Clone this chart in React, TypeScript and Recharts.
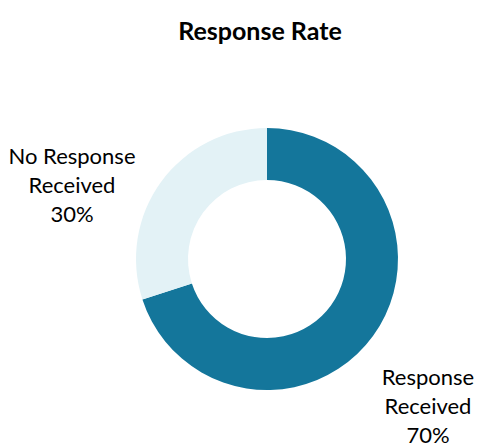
import { PieChart, Pie, Cell } from 'recharts';

const categories = ['Response Received', 'No Response Received'];
const values = [70, 30];
const COLORS = ['#14769b', '#e3f2f6'];

// label anchor offsets from the pie centre, per slice
const LABEL_OFFSETS = [
  { dx: 161, dy: 126 },
  { dx: -195, dy: -95 },
];

const data = categories.map((name, i) => ({ name, value: values[i] }));

const FONT = 'Lato, "Open Sans", sans-serif';

const renderLabel = (props: any) => {
  const { cx, cy, index, name, percent } = props;
  const off = LABEL_OFFSETS[index];
  const words = String(name).split(' ');
  const lines =
    words.length > 2
      ? [words.slice(0, 2).join(' '), words.slice(2).join(' ')]
      : [words[0], words.slice(1).join(' ')];
  lines.push(`${Math.round(percent * 100)}%`);
  return (
    <text
      x={cx + off.dx}
      y={cy + off.dy}
      textAnchor="middle"
      fill="#000"
      fontSize={22}
      fontFamily={FONT}
    >
      {lines.map((l, i) => (
        <tspan key={i} x={cx + off.dx} dy={i === 0 ? 0 : 29}>
          {l}
        </tspan>
      ))}
    </text>
  );
};

const App = () => {
  return (
    <div style={{ position: 'absolute', left: 0, top: 0, width: 478, height: 446, background: '#fff' }}>
      <PieChart width={478} height={446} margin={{ top: 0, right: 0, bottom: 0, left: 0 }}>
        <text
          x={260}
          y={40}
          textAnchor="middle"
          fontSize={25}
          fontWeight="bold"
          fontFamily={FONT}
          fill="#000"
        >
          Response Rate
        </text>
        <Pie
          data={data}
          dataKey="value"
          nameKey="name"
          cx={267}
          cy={259}
          innerRadius={79}
          outerRadius={131}
          startAngle={90}
          endAngle={-270}
          stroke="none"
          label={renderLabel}
          labelLine={false}
          isAnimationActive={false}
        >
          {data.map((d, i) => (
            <Cell key={d.name} fill={COLORS[i]} />
          ))}
        </Pie>
      </PieChart>
    </div>
  );
};

export default App;
